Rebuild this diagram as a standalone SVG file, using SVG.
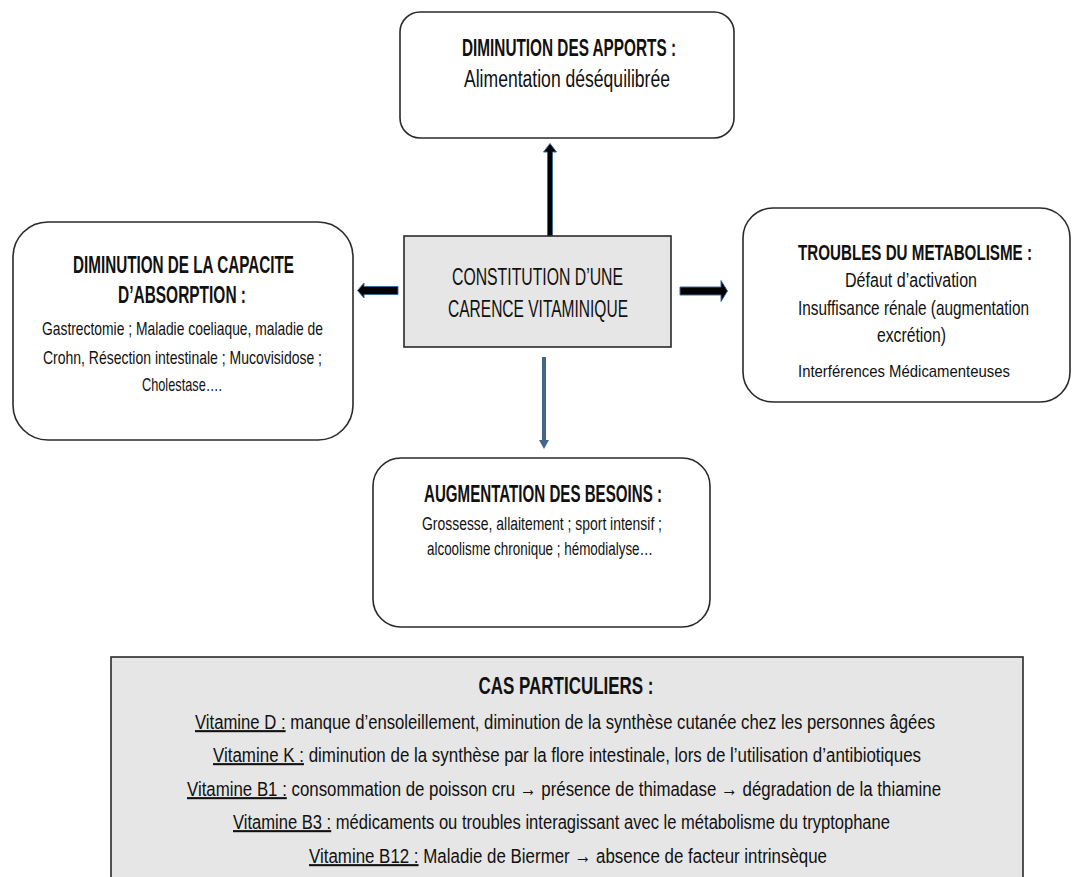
<svg xmlns="http://www.w3.org/2000/svg" width="1072" height="877" viewBox="0 0 1072 877">
<style>
text{font-family:"Liberation Sans",Arial,sans-serif;fill:#111;text-anchor:middle}
.b{font-weight:bold}
.box{fill:#fff;stroke:#2a2a2a;stroke-width:1.6}
.gbox{fill:#e6e6e6;stroke:#2a2a2a;stroke-width:1.6}
.t23{font-size:23px}
.t20{font-size:20px}
.t19{font-size:19px}
.t18{font-size:18px}
.t17{font-size:17px}
.cl{font-size:16.8px}
.u{text-decoration:underline}
.arr{fill:#000;stroke:#3a6a9e;stroke-width:1}
</style>
<rect width="1072" height="877" fill="#fff"/>
<g id="connectors">
  <path class="arr" d="M547.5,236 V152 H543.5 L550,143.5 L556.5,152 H552.5 V236 Z"/>
  <path class="arr" d="M398,286.5 H364 V283 L357.5,290.5 L364,298 V294.5 H398 Z"/>
  <path class="arr" d="M680,287 H721 V280.5 L727.5,291 L721,301.5 V295 H680 Z"/>
  <path d="M544,357 V441" stroke="#45668c" stroke-width="4" fill="none"/>
  <path d="M539,440 L544,449 L549,440 Z" fill="#45668c"/>
</g>
<g id="top">
  <rect class="box" x="400" y="12" width="334" height="126" rx="20"/>
  <text class="t23 b" x="569" y="56" textLength="214" lengthAdjust="spacingAndGlyphs">DIMINUTION DES APPORTS :</text>
  <text class="t23" x="567" y="87" textLength="206" lengthAdjust="spacingAndGlyphs">Alimentation déséquilibrée</text>
</g>
<g id="center">
  <rect class="gbox" x="404" y="236" width="267" height="111"/>
  <text class="t23" x="537.5" y="285" textLength="171" lengthAdjust="spacingAndGlyphs">CONSTITUTION  D’UNE</text>
  <text class="t23" x="538" y="317" textLength="180" lengthAdjust="spacingAndGlyphs">CARENCE VITAMINIQUE</text>
</g>
<g id="left">
  <rect class="box" x="13" y="222" width="340" height="218" rx="35"/>
  <text class="t23 b" x="183.5" y="273" textLength="221" lengthAdjust="spacingAndGlyphs">DIMINUTION DE LA CAPACITE</text>
  <text class="t23 b" x="182" y="303" textLength="128" lengthAdjust="spacingAndGlyphs">D’ABSORPTION :</text>
  <text class="t19" x="182.5" y="335" textLength="281" lengthAdjust="spacingAndGlyphs">Gastrectomie ; Maladie coeliaque, maladie de</text>
  <text class="t19" x="182.5" y="364" textLength="279" lengthAdjust="spacingAndGlyphs">Crohn, Résection intestinale ; Mucovisidose ;</text>
  <text class="t19" x="182" y="391" textLength="80" lengthAdjust="spacingAndGlyphs">Cholestase….</text>
</g>
<g id="right">
  <rect class="box" x="743" y="208" width="327" height="194" rx="30"/>
  <text class="b" style="font-size:15.1px" transform="translate(915,260) scale(1,1.52)" textLength="234" lengthAdjust="spacingAndGlyphs">TROUBLES DU METABOLISME :</text>
  <text class="t20" x="911" y="287" textLength="132" lengthAdjust="spacingAndGlyphs">Défaut d’activation</text>
  <text style="font-size:15px" transform="translate(913.5,315) scale(1,1.33)" textLength="231" lengthAdjust="spacingAndGlyphs">Insuffisance rénale (augmentation</text>
  <text class="t20" x="911.5" y="342" textLength="69" lengthAdjust="spacingAndGlyphs">excrétion)</text>
  <text class="t17" x="904" y="377" textLength="212" lengthAdjust="spacingAndGlyphs">Interférences Médicamenteuses</text>
</g>
<g id="bottom">
  <rect class="box" x="373" y="458" width="337" height="169" rx="28"/>
  <text class="t23 b" x="543" y="502" textLength="238" lengthAdjust="spacingAndGlyphs">AUGMENTATION DES BESOINS :</text>
  <text class="t18" x="542" y="530" textLength="240" lengthAdjust="spacingAndGlyphs">Grossesse, allaitement ; sport intensif ;</text>
  <text class="t18" x="540" y="555" textLength="226" lengthAdjust="spacingAndGlyphs">alcoolisme chronique ; hémodialyse…</text>
</g>
<g id="cas">
  <rect class="gbox" x="111" y="657" width="912" height="240"/>
  <text class="t23 b" x="566" y="694" textLength="175" lengthAdjust="spacingAndGlyphs">CAS PARTICULIERS :</text>
  <text class="cl" transform="translate(565,729) scale(1,1.25)" textLength="740" lengthAdjust="spacingAndGlyphs"><tspan class="u">Vitamine D :</tspan> manque d’ensoleillement, diminution de la synthèse cutanée chez les personnes âgées</text>
  <text class="cl" transform="translate(567,762) scale(1,1.25)" textLength="708" lengthAdjust="spacingAndGlyphs"><tspan class="u">Vitamine K :</tspan> diminution de la synthèse par la flore intestinale, lors de l’utilisation d’antibiotiques</text>
  <text class="cl" transform="translate(564,796) scale(1,1.25)" textLength="754" lengthAdjust="spacingAndGlyphs"><tspan class="u">Vitamine B1 :</tspan> consommation de poisson cru → présence de thimadase → dégradation de la thiamine</text>
  <text class="cl" transform="translate(561.5,829) scale(1,1.25)" textLength="657" lengthAdjust="spacingAndGlyphs"><tspan class="u">Vitamine B3 :</tspan> médicaments ou troubles interagissant avec le métabolisme du tryptophane</text>
  <text class="cl" transform="translate(568,863) scale(1,1.25)" textLength="518" lengthAdjust="spacingAndGlyphs"><tspan class="u">Vitamine B12 :</tspan> Maladie de Biermer → absence de facteur intrinsèque</text>
</g>
</svg>
